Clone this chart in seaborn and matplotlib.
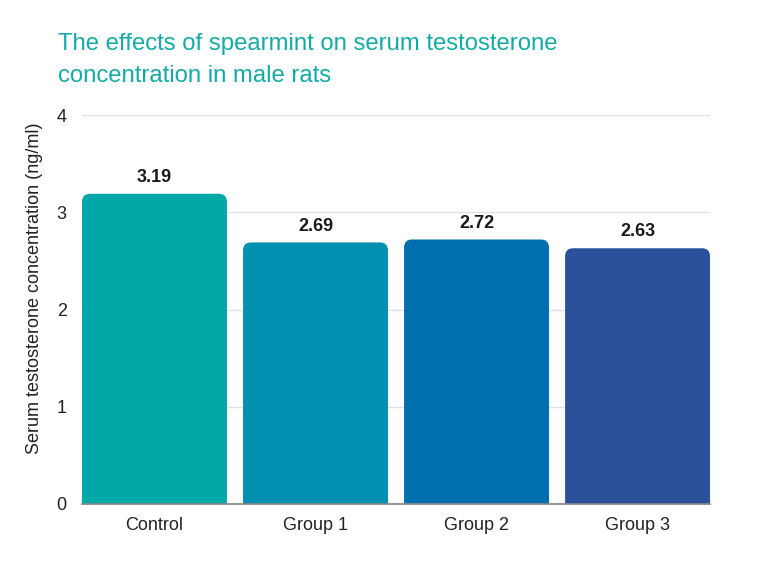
import matplotlib
matplotlib.use("Agg")
import matplotlib.pyplot as plt
import seaborn as sns
import pandas as pd
from matplotlib.patches import FancyBboxPatch

# Data
groups = ["Control", "Group 1", "Group 2", "Group 3"]
testosterone = [3.19, 2.69, 2.72, 2.63]
bar_colors = ["#00A9A7", "#0090B0", "#006FAE", "#2B519A"]

df = pd.DataFrame({"group": groups, "value": testosterone})

sns.set_theme(style="white")
plt.rcParams["font.family"] = ["Liberation Sans", "DejaVu Sans"]

fig = plt.figure(figsize=(7.68, 5.76), dpi=100)
ax = fig.add_axes([0.1068, 0.125, 0.8177, 0.6753])

sns.barplot(data=df, x="group", y="value", hue="group", palette=bar_colors,
            width=0.9, legend=False, ax=ax, zorder=3)

ax.set_xlim(-0.45, len(groups) - 0.55)
ax.set_ylim(0, 4)
ax.set_yticks([0, 1, 2, 3, 4])

# swap plain rectangles for rounded-top bars
rad = 0.05
for patch, color in zip(list(ax.patches), bar_colors):
    x, w, h = patch.get_x(), patch.get_width(), patch.get_height()
    patch.remove()
    rounded = FancyBboxPatch((x + rad, -0.3), w - 2 * rad, h + 0.3 - rad * 1.65,
                             boxstyle=f"round,pad={rad}", mutation_aspect=1.65,
                             facecolor=color, edgecolor="none", zorder=3,
                             clip_on=True)
    ax.add_patch(rounded)
    ax.text(x + w / 2, h + 0.08, f"{h:.2f}", ha="center", va="bottom",
            fontsize=13, fontweight="bold", color="#1a1a1a")

ax.grid(axis="y", color="#DCE3E6", linewidth=1, zorder=0)
ax.set_axisbelow(True)
sns.despine(ax=ax, left=True)
ax.spines["bottom"].set_color("#888888")
ax.spines["bottom"].set_zorder(4)
ax.tick_params(axis="both", length=0, labelsize=13, colors="#222222")
ax.tick_params(axis="x", pad=9)
ax.tick_params(axis="y", pad=11)
ax.set_xlabel("")
ax.set_ylabel("Serum testosterone concentration (ng/ml)", fontsize=13,
              color="#222222")
ax.yaxis.set_label_coords(-0.062, 0.555)

fig.text(0.0755, 0.943, "The effects of spearmint on serum testosterone\nconcentration in male rats",
         ha="left", va="top", fontsize=17.2, color="#14ABA6", linespacing=1.62)

fig.savefig("out.png", dpi=100)
